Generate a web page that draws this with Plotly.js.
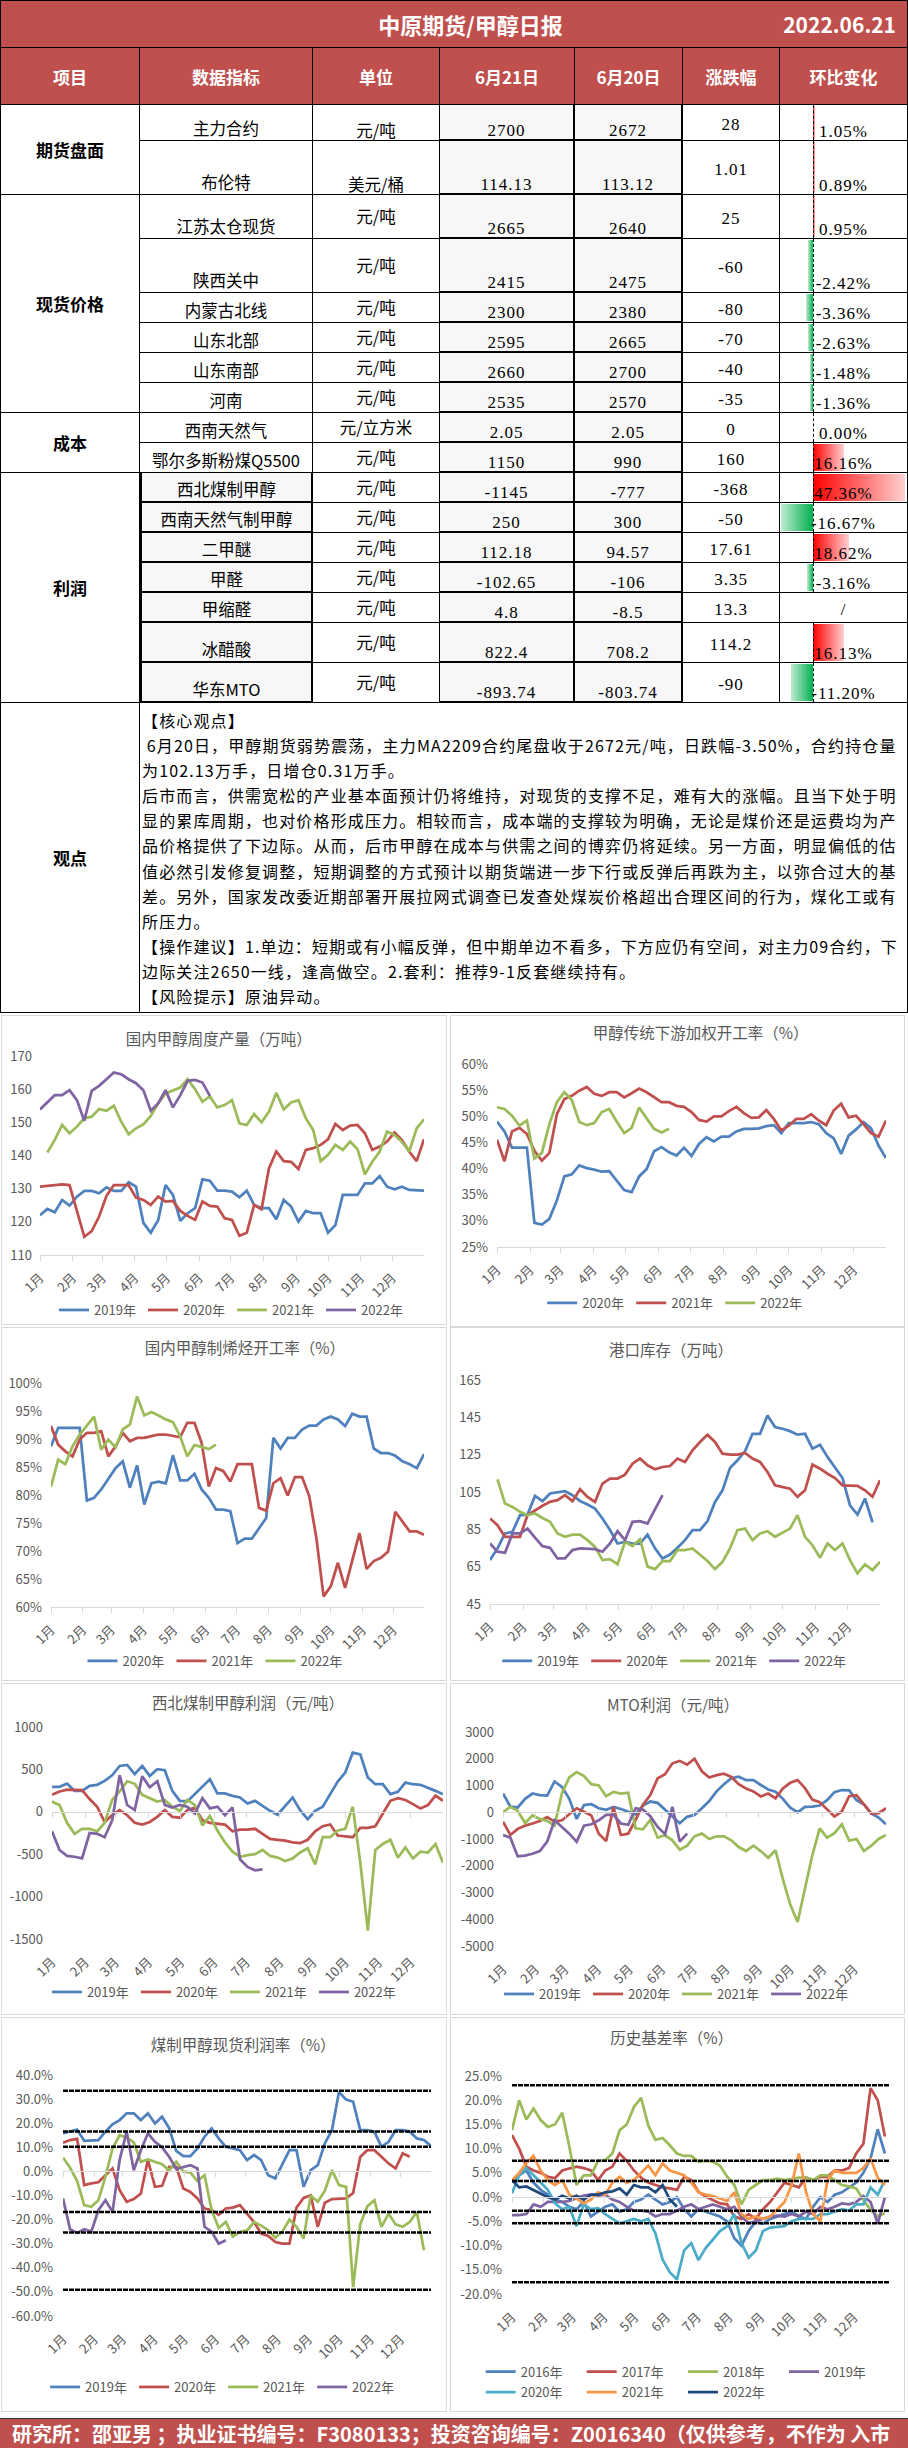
<!DOCTYPE html>
<html lang="zh-CN">
<head>
<meta charset="utf-8">
<script src="https://cdn.plot.ly/plotly-3.0.1.min.js"></script>
<style>
*{box-sizing:border-box;}
html,body{margin:0;padding:0;background:#fff;}
body{position:relative;width:908px;height:2448px;overflow:hidden;font-family:"Noto Sans CJK SC","Noto Sans",sans-serif;color:#000;}
#rep{position:absolute;left:0;top:0;width:908px;height:1013px;}
.cell{position:absolute;border-right:1px solid #000;border-bottom:1px solid #000;display:flex;overflow:hidden;white-space:nowrap;line-height:17px;}
.hd{background:#C0504D;color:#fff;font-weight:700;font-size:17px;}
.grp{font-weight:700;font-size:17px;}
.nm{font-size:16.5px;}
.num{font-family:"Liberation Serif",serif;font-size:17px;letter-spacing:1px;line-height:17px;}
.ttl{position:absolute;left:33px;right:0;top:0;bottom:0;display:flex;align-items:center;justify-content:center;font-size:22px;}
.dt{position:absolute;right:11px;top:0;bottom:0;display:flex;align-items:center;font-size:21px;}
.view{font-size:16px;letter-spacing:1.15px;line-height:25.1px;padding:5px 0 0 2px;white-space:nowrap;display:block;}
.panel{position:absolute;border:1px solid #D9D9D9;background:#fff;}
.plot{position:absolute;}
#footer{position:absolute;left:0;top:2418px;width:908px;height:30px;background:#C0504D;border-top:1px solid #333;color:#fff;font-weight:700;font-size:20px;line-height:29px;padding-left:12px;white-space:nowrap;overflow:hidden;}
</style>
</head>
<body>
<div id="rep"></div>
<div id="footer">研究所：邵亚男 ；执业证书编号：F3080133；投资咨询编号：Z0016340（仅供参考，不作为 入市</div>
<script>
// ---------------- TABLE DATA ----------------
const headers=['项目','数据指标','单位','6月21日','6月20日','涨跌幅','环比变化'];
const groupLabels=['期货盘面','现货价格','成本','利润'];
const groupSizes=[2,6,2,7];
const itemNames=['主力合约','布伦特','江苏太仓现货','陕西关中','内蒙古北线','山东北部','山东南部','河南','西南天然气','鄂尔多斯粉煤Q5500','西北煤制甲醇','西南天然气制甲醇','二甲醚','甲醛','甲缩醛','冰醋酸','华东MTO'];
const units=['元/吨','美元/桶','元/吨','元/吨','元/吨','元/吨','元/吨','元/吨','元/立方米','元/吨','元/吨','元/吨','元/吨','元/吨','元/吨','元/吨','元/吨'];
const priceJun21=['2700','114.13','2665','2415','2300','2595','2660','2535','2.05','1150','-1145','250','112.18','-102.65','4.8','822.4','-893.74'];
const priceJun20=['2672','113.12','2640','2475','2380','2665','2700','2570','2.05','990','-777','300','94.57','-106','-8.5','708.2','-803.74'];
const dayChange=['28','1.01','25','-60','-80','-70','-40','-35','0','160','-368','-50','17.61','3.35','13.3','114.2','-90'];
const pctChange=[1.05,0.89,0.95,-2.42,-3.36,-2.63,-1.48,-1.36,0.00,16.16,47.36,-16.67,18.62,-3.16,null,16.13,-11.20];
const viewLines=[
'【核心观点】',
'&nbsp;6月20日，甲醇期货弱势震荡，主力MA2209合约尾盘收于2672元/吨，日跌幅-3.50%，合约持仓量',
'为102.13万手，日增仓0.31万手。',
'后市而言，供需宽松的产业基本面预计仍将维持，对现货的支撑不足，难有大的涨幅。且当下处于明',
'显的累库周期，也对价格形成压力。相较而言，成本端的支撑较为明确，无论是煤价还是运费均为产',
'品价格提供了下边际。从而，后市甲醇在成本与供需之间的博弈仍将延续。另一方面，明显偏低的估',
'值必然引发修复调整，短期调整的方式预计以期货端进一步下行或反弹后再跌为主，以弥合过大的基',
'差。另外，国家发改委近期部署开展拉网式调查已发查处煤炭价格超出合理区间的行为，煤化工或有',
'所压力。',
'【操作建议】1.单边：短期或有小幅反弹，但中期单边不看多，下方应仍有空间，对主力09合约，下',
'边际关注2650一线，逢高做空。2.套利：推荐9-1反套继续持有。',
'【风险提示】原油异动。'
];

// ---------------- CHART DATA ----------------
const monthStartDays=[0,31,59,90,120,151,181,212,243,273,304,334];
const monthLabels=['1月','2月','3月','4月','5月','6月','7月','8月','9月','10月','11月','12月'];
const weekDays=Array.from({length:53},(_,i)=>i*7);

// 国内甲醇周度产量（万吨）
const prod2019=[122,123.9,122.9,126.6,124.9,127.6,129.3,129.3,128.6,130.4,129.3,129.3,131.9,130.6,119.7,116.7,120.5,131.1,128.1,120.3,122.6,124.1,132.8,132.4,129.4,129.4,129.1,127.4,129.4,125.1,124.1,124.1,120.8,126.6,124.6,120.1,123.3,122.6,122.6,116.7,119,128.1,128.1,128.1,131.6,131.6,133.8,130.6,129.8,130.6,129.6,129.4,129.4];
const prod2020=[130.6,130.9,131.1,131.3,131.1,123.6,115.5,117.2,121.6,127.8,131.1,131.1,131.1,127.3,126.6,125.1,127.6,126.1,126.3,123.3,121.8,120.6,126.1,124.8,124.6,121.1,120.6,115.8,116.7,125.1,123.8,136.1,141.2,138.3,138.1,135.9,141.7,142.2,143.2,144.9,149.5,147.7,149.0,149.2,146.7,141.7,142.7,144.2,146.9,144.7,141.2,138.3,144.9];
const prod2021=[null,140.9,144.7,149.2,146.7,148.7,151.2,151.7,154,153.5,155,150.2,146.4,148.2,149.4,151.9,155.7,158.7,159.5,160.5,163,160,156.2,157.9,154.5,155.2,156.7,149.7,149.2,152.5,150,153.2,158.9,153.9,156,156.7,151.2,147.7,138.3,140.2,143.2,141.7,144.2,141.9,134.3,138.1,141.2,147.2,146.2,144.2,141.2,148.2,150.9];
const prod2022=[153.9,156.2,158.2,158.2,159.7,156.7,150.5,159.5,161,163,165,164.5,163,161.8,159.7,153.5,155.7,159.7,154.5,158.2,162.5,162.8,162,158];
const prodTicks=[110,120,130,140,150,160,170];

// 甲醇传统下游加权开工率（%）
const down2020=[49.0,47.1,44.0,44.0,44.0,29.6,29.3,30.4,33.9,38.5,38.9,40.6,40.1,39.8,39.4,39.5,37.6,35.9,35.5,38.5,39.9,43.3,44.1,43.1,42.5,44.0,42.4,44.7,46.0,45.2,46.1,46.1,47.1,47.6,47.6,47.7,48.1,48.3,46.8,48.7,48.7,48.7,48.9,48.5,46.8,45.8,42.8,46.3,47.5,48.9,47.7,44.4,42.0];
const down2021=[45.5,41.4,47.1,47.8,46.6,43.4,41.5,43.0,50.4,53.3,53.9,54.9,55.6,54.3,53.9,54.6,54.6,53.6,54.4,55.3,54.6,53.6,52.7,52.7,52.0,51.8,50.8,49.3,49.0,50.0,50.0,51.0,51.8,50.6,49.7,49.8,51.2,49.5,47.3,48.2,49.5,49.5,50.4,49.2,48.3,51.1,52.4,49.8,50.1,48.5,46.8,46.1,49.2];
const down2022=[51.7,51.4,50.1,48.2,49.2,41.9,43.0,48.5,52.7,54.6,53.1,48.9,48.3,48.7,50.8,51.4,49.0,46.8,47.8,51.7,49.6,47.6,46.9,47.6];
const downTicks=[25,30,35,40,45,50,55,60];

// 国内甲醇制烯烃开工率（%）
const olef2020=[88.7,92.0,92.0,92.0,92.0,79.0,79.5,81.0,83.0,84.8,86.0,81.3,85.3,78.3,82.1,82.4,82.1,87.1,82.6,82.6,83.8,81.0,79.5,77.4,77.4,77.1,71.4,72.2,72.2,74.1,75.9,90.2,88.3,90.2,90.2,91.7,92.4,92.4,93.5,94.0,93.5,92.3,94.5,94.0,94.0,88.3,87.5,87.5,87.0,86.0,85.5,84.8,87.3];
const olef2021=[92.3,89.0,87.8,86.9,89.9,91.1,91.1,91.4,86.9,88.7,91.1,89.6,90.2,90.2,90.5,90.8,90.8,90.5,90.3,92.9,92.9,89.3,81.5,84.8,84.3,82.4,85.5,85.5,85.5,77.7,77.2,82.1,83.0,79.9,83.2,83.2,79.8,72.3,61.9,63.7,67.9,63.4,68.2,73.2,66.8,68.2,68.8,69.9,77.0,75.2,73.5,73.5,72.9];
const olef2022=[81.5,86.3,85.5,88.7,90.8,92.3,94.0,88.1,89.9,88.5,91.7,92.6,97.6,94.2,94.8,94.2,93.5,93.0,90.5,86.9,88.9,88.6,88.2,89.0];
const olefTicks=[60,65,70,75,80,85,90,95,100];

// 港口库存（万吨）
const port2019=[68.5,74.8,82.8,83.7,92.6,92.9,102.9,100.1,104.2,105.0,105.4,103.3,100.2,98.3,96.1,90.8,84.6,77.4,78.3,77.4,77.4,82.2,74.8,69.4,71.5,75.1,79.2,84.6,84.6,89.4,99.7,105.9,117.9,122.0,126.8,136.2,136.2,146.0,139.8,138.9,137.6,135.7,136.2,128.2,130.3,123.8,118.4,112.5,97.9,92.9,101.5,88.7];
const port2020=[90.8,87.2,81.0,81.0,81.0,92.6,95.2,97.6,99.7,100.6,103.3,100.1,106.5,102.4,99.7,109.5,112.2,112.2,114.3,120.2,122.9,119.3,117.2,118.4,118.9,122.9,121.1,127.3,131.8,135.7,131.8,125.5,125.0,125.0,125.9,122.9,121.1,115.7,108.6,107.7,106.8,102.4,105.9,119.7,117.5,114.8,112.5,108.6,108.3,108.3,105.9,102.4,111.3];
const port2021=[null,111.8,98.8,97.0,94.4,92.6,93.5,91.1,89.0,82.8,81.0,82.2,82.2,79.2,75.6,68.5,69.0,66.2,78.3,76.0,79.7,65.0,63.7,68.0,68.0,73.9,73.9,74.8,71.2,68.0,63.7,67.6,74.8,84.6,85.4,79.2,82.8,84.0,81.0,83.1,85.4,92.6,81.0,76.5,69.8,77.4,73.9,77.4,68.5,61.4,66.2,63.2,67.6];
const port2022=[77.4,73.0,72.4,82.8,82.8,85.4,80.5,76.0,75.1,69.4,69.4,73.9,74.8,74.4,74.4,73.0,77.4,84.0,79.2,89.0,89.4,88.1,96.1,103.3];
const portTicks=[45,65,85,105,125,145,165];

// 西北煤制甲醇利润（元/吨）
const nw2019=[294,294,333,247,247,306,318,365,431,541,553,443,541,423,502,490,247,129,122,208,306,384,216,216,188,169,98,129,71,12,-35,71,169,20,-86,12,59,208,357,463,698,678,404,325,325,208,235,345,325,318,286,247,208];
const nw2020=[200,240,260,260,255,150,60,-120,-40,20,-40,-130,-150,-120,-60,20,-60,-70,20,50,-100,-130,-140,-150,-230,-210,-210,-200,-260,-320,-330,-340,-360,-370,-330,-230,-170,-150,-280,-290,-300,-190,-190,-170,-20,130,160,140,90,40,80,190,130];
const nw2021=[120,80,-130,-260,-200,-200,-230,-130,140,240,360,330,200,160,120,140,60,10,140,80,-160,-50,-220,-360,-470,-530,-510,-500,-450,-520,-540,-580,-550,-480,-430,-620,-300,-300,-220,-200,60,-600,-1400,-450,-380,-330,-540,-420,-550,-470,-480,-380,-600];
const nw2022=[-230,-450,-520,-530,-550,-250,-260,-300,-100,430,80,20,420,290,360,80,50,80,60,-20,160,40,60,-40,50,-560,-650,-690,-680];
const nwTicks=[-1500,-1000,-500,0,500,1000];

// MTO利润（元/吨）
const mto2019=[700,210,180,500,700,640,620,1150,950,500,-250,270,300,150,90,200,120,20,-80,250,400,350,100,-150,-410,-170,-100,150,420,780,1050,1270,1330,1200,1200,1020,850,770,500,170,0,200,210,250,450,750,830,820,450,300,-40,-200,-450];
const mto2020=[-350,-850,-620,-500,-420,-330,-180,-350,-300,-80,150,20,-120,-800,-1080,200,-850,-800,-290,280,640,1270,1420,1830,1920,1780,2000,1530,1300,1390,1440,1320,1050,890,780,590,700,520,890,1100,1200,900,470,380,100,-160,30,600,640,300,-50,-30,150];
const mto2021=[0,200,50,-400,-120,-250,-320,-500,700,1300,1500,1350,1050,1000,600,760,700,730,-600,-640,-290,-950,-860,-1050,-1400,-1250,-900,-800,-1000,-900,-900,-1050,-1300,-1450,-1250,-1450,-1700,-1420,-2500,-3450,-4100,-2900,-1600,-600,-950,-780,-450,-1060,-1000,-1450,-1250,-1000,-850];
const mto2022=[-850,-950,-1650,-1620,-1550,-1450,-1100,-300,-550,-800,-1100,-500,-450,-300,-100,-100,-420,-470,150,100,-150,-550,-820,200,-1100,-800];
const mtoTicks=[-5000,-4000,-3000,-2000,-1000,0,1000,2000,3000];

// 煤制甲醇现货利润率（%）
const pr2019=[15.8,16.5,17.4,12.7,12.7,13.0,16.5,19.5,21.3,24.1,24.1,21.3,24.1,19.9,22.7,18.0,8.5,6.3,6.3,9.5,14.4,17.8,13.7,10.2,9.5,8.8,4.7,6.8,4.7,-1.6,-2.9,3.3,8.8,8.8,-6.4,0.5,2.6,11.6,17.1,33.0,29.8,28.9,17.1,17.1,16.5,10.2,12.3,17.1,17.1,16.5,13.7,13.0,10.5];
const pr2020=[11.9,13.0,13.5,-5.7,-5.0,-4.5,-1.6,1.2,-7.8,-12.6,-11.5,-9.2,4.7,-6.4,-6.0,1.9,1.9,-7.1,-8.5,-11.2,-15.4,-16.0,-18.0,-15.4,-15.0,-14.0,-17.5,-21.0,-25.8,-26.8,-29.3,-30.0,-30.0,-15.0,-11.0,-9.9,-23.0,-13.0,-11.5,-11.2,-11.2,-9.0,6.0,8.8,8.8,6.1,3.3,1.2,7.5,6.1];
const pr2021=[5.8,1.5,-4.0,-14.0,-14.7,-12.0,-2.2,9.5,15.0,14.0,12.0,4.0,5.0,4.0,3.0,0.5,4.0,0.0,-0.5,-4.0,-1.6,-16.1,-23.5,-21.0,-27.0,-25.1,-24.5,-21.0,-22.5,-24.4,-27.5,-25.0,-20.0,-23.0,-27.9,-10.0,-12.6,-8.0,0.5,-5.7,-6.4,-48.0,-22.0,-14.5,-12.0,-23.0,-17.5,-22.0,-23.0,-21.0,-16.8,-32.7];
const pr2022=[-11.2,-24.0,-25.5,-24.0,-25.0,-16.1,-12.0,-16.8,4.7,16.5,0.5,8.8,15.8,12.3,10.0,6.1,1.0,1.9,2.6,1.2,-23.0,-25.0,-30.0,-28.6];
const prTicks=[-60,-50,-40,-30,-20,-10,0,10,20,30,40];
const prRefLevels=[33.5,16.6,10.2,-16.8,-25.4,-49.1];

// 历史基差率（%）
const b2016=[3.0,4.5,5.5,3.0,1.5,0.5,-0.5,-1.0,-2.0,-2.5,-1.0,-4.0,-3.0,-2.0,-1.5,-3.0,-2.5,-1.0,-0.5,0.5,-0.5,-1.5,-1.0,0.0,-2.5,-4.0,-2.5,-3.0,-3.5,-4.0,-5.0,-8.5,-10.0,-7.0,-5.0,-5.5,-4.5,-4.0,-3.5,-3.0,-4.0,-4.5,-2.0,0.0,-1.0,0.5,1.0,2.0,3.0,5.0,8.0,14.0,9.0];
const b2017=[12.8,10.0,6.3,5.5,5.0,4.2,3.9,5.5,5.9,6.3,6.0,5.5,3.5,5.5,6.3,9.0,7.5,5.5,4.0,3.0,2.5,2.0,1.8,1.5,4.2,3.5,1.1,0.1,-0.6,-1.3,-1.5,-4.0,-4.5,-3.5,-4.5,-2.5,-1.0,1.0,3.0,2.5,2.0,4.0,3.5,4.2,4.2,5.5,5.5,6.0,9.0,11.0,22.5,20.0,12.5];
const b2018=[13.8,20.0,16.0,18.3,15.9,14.5,15.0,17.4,10.4,2.5,4.5,4.5,7.5,7.6,9.0,13.8,15.0,18.6,20.5,14.8,11.8,12.2,10.7,9.0,8.5,8.5,7.3,7.5,7.3,6.5,4.2,2.5,-1.5,1.5,2.5,3.5,3.5,3.8,3.5,3.8,4.0,4.0,3.5,4.5,4.5,3.5,2.5,2.2,1.8,-0.6,-2.6,-4.0,-3.3];
const b2019=[-3.7,-3.7,-3.5,-1.5,-2.0,-1.0,-1.0,-1.0,-0.8,-0.3,0.3,0.5,0.3,0.5,-0.5,-1.0,-2.0,-2.8,-2.8,-3.0,-4.0,-3.5,-3.5,-2.8,-2.0,-1.5,-2.5,-2.0,-1.5,-2.0,-2.5,-2.0,-4.0,-5.4,-5.0,-4.5,-4.0,-3.8,-4.0,-3.5,-4.0,-3.0,-3.5,-2.0,-2.5,-2.0,-1.3,-1.5,-1.0,0.2,-1.0,-5.5,0.0];
const b2020=[0.8,4.5,6.0,4.5,3.0,1.5,-1.3,-2.5,-2.0,-6.0,-1.5,-2.5,-2.3,-3.5,-4.5,-5.4,-5.0,-4.5,-5.0,-4.5,-7.5,-12.9,-15.5,-17.0,-11.0,-9.5,-13.0,-10.5,-8.8,-7.0,-6.0,-3.5,-9.5,-12.5,-11.0,-7.0,-6.3,-6.2,-6.0,-5.0,-4.5,-4.5,-4.5,-3.5,-3.5,-3.0,-2.5,-2.8,-1.5,-1.5,2.0,0.5,3.5];
const b2021=[3.5,5.0,7.0,8.5,5.5,3.5,2.5,3.5,0.5,-0.3,-1.3,-0.5,1.0,0.5,3.0,4.2,3.0,3.5,5.0,6.5,4.5,7.0,5.5,5.0,4.5,3.0,1.0,0.5,0.2,-0.3,-0.8,1.0,-3.5,-4.5,-4.0,-4.5,-4.0,-2.5,-1.0,2.5,9.0,1.0,-3.5,-5.0,3.5,5.5,5.0,5.0,5.0,6.0,8.0,4.0,2.5];
const b2022=[3.5,2.0,2.2,1.5,0.8,0.0,-0.5,0.3,-0.3,0.3,-0.5,0.5,0.5,1.0,1.2,1.8,0.5,2.5,2.0,2.0,1.0,2.5,-0.5,-2.0];
const basisTicks=[-20,-15,-10,-5,0,5,10,15,20,25];
const basisRefLevels=[23.1,7.5,3.3,-2.8,-5.4,-17.6];

// ---------------- TABLE BUILD (absolute cells) ----------------
(function(){
  const rep=document.getElementById('rep');
  const colX=[0,140,313,440,575,683,780,908];
  const rowH=[36,54,44,54,30,30,30,30,30,30,30,30,30,30,30,40,40];
  const rowY=[105];rowH.forEach(h=>rowY.push(rowY[rowY.length-1]+h));
  const viewBottom=1013;
  function cell(x0,x1,y0,y1,html,cls,style){
    const d=document.createElement('div');d.className='cell '+(cls||'');
    d.style.cssText=`left:${x0}px;top:${y0}px;width:${x1-x0}px;height:${y1-y0}px;`+(style||'');
    d.innerHTML=html;rep.appendChild(d);return d;
  }
  const BL='border-left:1px solid #000;';
  cell(0,908,0,48,'<span class="ttl">中原期货/甲醇日报</span><span class="dt">2022.06.21</span>','hd',BL+'border-top:1px solid #000;position:absolute;');
  headers.forEach((t,c)=>cell(colX[c],colX[c+1],48,105,t,'hd',(c===0?BL:'')+'align-items:center;justify-content:center;'));
  let r=0;
  groupSizes.forEach((n,g)=>{cell(0,colX[1],rowY[r],rowY[r+n],groupLabels[g],'grp',BL+'align-items:center;justify-content:center;');r+=n;});
  const maxPos=Math.max(...pctChange.filter(v=>v!==null));
  const axisX=33,barSpan=(colX[7]-colX[6])-axisX-3;
  for(let i=0;i<itemNames.length;i++){
    const y0=rowY[i],y1=rowY[i+1];
    const profit=i>=10;
    const nmStyle=profit?'background:#F7F7F7;border-left:2px solid #000;border-right:2px solid #000;border-bottom:2px solid #000;':'';
    cell(colX[1],colX[2],y0,y1,itemNames[i],'nm',nmStyle+'align-items:flex-end;justify-content:center;padding-bottom:3px;');
    cell(colX[2],colX[3],y0,y1,units[i],'nm',(i<2?'align-items:flex-end;padding-bottom:1px;':'align-items:center;')+'justify-content:center;');
    cell(colX[3],colX[4],y0,y1,priceJun21[i],'num','background:#F7F7F7;border-bottom:2px solid #000;border-right:2px solid #000;align-items:flex-end;justify-content:center;');
    cell(colX[4],colX[5],y0,y1,priceJun20[i],'num','background:#F7F7F7;border-bottom:2px solid #000;border-right:2px solid #000;align-items:flex-end;justify-content:center;');
    cell(colX[5],colX[6],y0,y1,dayChange[i],'num','align-items:center;justify-content:center;padding-top:3px;');
    const v=pctChange[i];
    let inner;
    if(v===null){
      cell(colX[6],colX[7],y0,y1,'<span class="num">/</span>','', 'align-items:center;justify-content:center;padding-top:4px;');
    } else {
      const w=Math.abs(v)/maxPos*barSpan;
      let bar='';
      if(v>0) bar=`<div style="position:absolute;left:${axisX}px;top:1px;bottom:1px;width:${w}px;background:linear-gradient(to right,#FF0000,#FFD0D0)"></div>`;
      else if(v<0) bar=`<div style="position:absolute;left:${axisX-w}px;top:1px;bottom:1px;width:${w}px;background:linear-gradient(to left,#00B050,#BFEBCF)"></div>`;
      const ax=`<div style="position:absolute;left:${axisX}px;top:0;bottom:0;border-left:1px dashed #000"></div>`;
      cell(colX[6],colX[7],y0,y1,`${bar}${ax}<span class="num" style="position:relative">${v.toFixed(2)}%</span>`,'','align-items:flex-end;justify-content:center;');
    }
  }
  cell(0,colX[1],rowY[rowY.length-1],viewBottom,'观点','grp',BL+'align-items:center;justify-content:center;');
  cell(colX[1],colX[7],rowY[rowY.length-1],viewBottom,`<div class="view">${viewLines.join('<br>')}</div>`,'','display:block;');
})();

// ---------------- CHARTS ----------------
const FONT='"Noto Sans CJK SC","Noto Sans",sans-serif';
const COL={blue:'#4F81BD',red:'#C0504D',green:'#9BBB59',purple:'#8064A2',cyan:'#4BACC6',orange:'#F79646',navy:'#1F497D'};
const fmtInt=v=>String(v);
const fmtPct0=v=>v+'%';
const fmtPct1=v=>v.toFixed(1)+'%';

const charts=[
 {panel:[1,1015,446,310],m:[39.3,22.7,41,70],title:'国内甲醇周度产量（万吨）',tx:0.488,ty:25,lx:0.518,ly:295,ew:44,yTicks:prodTicks,yFmt:fmtInt,ysd:7,
  series:[['2019年',prod2019,COL.blue],['2020年',prod2020,COL.red],['2021年',prod2021,COL.green],['2022年',prod2022,COL.purple]]},
 {panel:[450,1015,455,312],m:[47.3,19.3,48.6,80.3],title:'甲醇传统下游加权开工率（%）',tx:0.551,ty:19,lx:0.496,ly:288,ew:44,yTicks:downTicks,yFmt:fmtPct0,ysd:8,
  series:[['2020年',down2020,COL.blue],['2021年',down2021,COL.red],['2022年',down2022,COL.green]]},
 {panel:[1,1327,446,354],m:[49.7,22.7,56.3,73.7],title:'国内甲醇制烯烃开工率（%）',tx:0.547,ty:22,lx:0.482,ly:334,ew:44,yTicks:olefTicks,yFmt:fmtPct0,ysd:8,
  series:[['2020年',olef2020,COL.blue],['2021年',olef2021,COL.red],['2022年',olef2022,COL.green]]},
 {panel:[450,1327,455,354],m:[40,25.3,52.5,77],title:'港口库存（万吨）',tx:0.486,ty:24,lx:0.495,ly:334,ew:44,yTicks:portTicks,yFmt:fmtInt,ysd:8,
  series:[['2019年',port2019,COL.blue],['2020年',port2020,COL.red],['2021年',port2021,COL.green],['2022年',port2022,COL.purple]]},
 {panel:[1,1683,446,332],m:[51.3,3.7,43.8,75.7],title:'西北煤制甲醇利润（元/吨）',tx:0.554,ty:21,lx:0.502,ly:309,ew:44,yTicks:nwTicks,yFmt:fmtInt,ysd:8,zeroAxis:true,
  series:[['2019年',nw2019,COL.blue],['2020年',nw2020,COL.red],['2021年',nw2021,COL.green],['2022年',nw2022,COL.purple]]},
 {panel:[450,1683,455,332],m:[53.3,19.3,48.6,69.3],title:'MTO利润（元/吨）',tx:0.490,ty:22.7,lx:0.499,ly:311,ew:44,yTicks:mtoTicks,yFmt:fmtInt,ysd:8,zeroAxis:true,
  series:[['2019年',mto2019,COL.blue],['2020年',mto2020,COL.red],['2021年',mto2021,COL.green],['2022年',mto2022,COL.purple]]},
 {panel:[1,2017,446,395],m:[62.3,16.3,58,96.3],title:'煤制甲醇现货利润率（%）',tx:0.543,ty:28.7,lx:0.498,ly:370,ew:44,yTicks:prTicks,yFmt:fmtPct1,ysd:9,zeroAxis:true,refs:prRefLevels,
  series:[['2019年',pr2019,COL.blue],['2020年',pr2020,COL.red],['2021年',pr2021,COL.green],['2022年',pr2022,COL.purple]]},
 {panel:[450,2017,455,395],m:[62.3,16,58.7,117.7],title:'历史基差率（%）',tx:0.487,ty:22,ew:56,yTicks:basisTicks,yFmt:fmtPct1,ysd:9,zeroAxis:true,refs:basisRefLevels,xMax:368,
  legendRows:[{items:[0,1],lineX:485.7,y:2371.7},{items:[2,3],lineX:688,y:2371.7},{items:[4,5],lineX:485.7,y:2392.3},{items:[6],lineX:688,y:2392.3}],
  series:[['2016年',b2016,COL.blue],['2017年',b2017,COL.red],['2018年',b2018,COL.green],['2019年',b2019,COL.purple],['2020年',b2020,COL.cyan],['2021年',b2021,COL.orange],['2022年',b2022,COL.navy]]}
];

function build(c){
  const [L,T,W,H]=c.panel;
  const p=document.createElement('div');p.className='panel';
  Object.assign(p.style,{left:L+'px',top:T+'px',width:W+'px',height:H+'px'});
  document.body.appendChild(p);
  const d=document.createElement('div');d.className='plot';
  Object.assign(d.style,{left:L+'px',top:T+'px',width:W+'px',height:H+'px'});
  document.body.appendChild(d);
  const xMax=c.xMax||364;
  const traces=c.series.map(s=>({type:'scatter',mode:'lines',name:s[0],x:weekDays.slice(0,s[1].length),y:s[1],
    line:{color:s[2],width:2.75},hoverinfo:'skip',connectgaps:false}));
  const yr=[c.yTicks[0],c.yTicks[c.yTicks.length-1]];
  const legFont={family:FONT,size:13,color:'#595959'};
  const layout={
    width:W,height:H,margin:{l:c.m[0],r:c.m[1],t:c.m[2],b:c.m[3],pad:0},
    paper_bgcolor:'rgba(0,0,0,0)',plot_bgcolor:'rgba(0,0,0,0)',
    font:{family:FONT,size:13,color:'#595959'},
    title:{text:c.title,font:{family:FONT,size:15.5,color:'#595959'},x:c.tx,xref:'container',xanchor:'center',y:1-c.ty/H,yref:'container',yanchor:'middle'},
    showlegend:true,
    xaxis:{range:[0,xMax],tickmode:'array',tickvals:monthStartDays,ticktext:monthLabels,tickangle:-45,showgrid:false,zeroline:false,
      tickfont:{family:FONT,size:13,color:'#595959'}},
    yaxis:{range:yr,tickmode:'array',tickvals:c.yTicks,ticktext:c.yTicks.map(c.yFmt),showgrid:false,zeroline:false,showline:false,ticks:'',
      ticklabelstandoff:c.ysd,tickfont:{family:FONT,size:13,color:'#595959'}},
    shapes:(c.refs||[]).map(v=>({type:'line',xref:'paper',x0:0,x1:1,yref:'y',y0:v,y1:v,layer:'above',line:{color:'#000',width:2.5,dash:'5px,1px'}}))
  };
  if(c.legendRows){
    c.legendRows.forEach((row,k)=>{
      const key=k===0?'legend':'legend'+(k+1);
      layout[key]={orientation:'h',xref:'container',x:(row.lineX-5-L)/W,xanchor:'left',yref:'container',y:1-(row.y-T)/H,yanchor:'middle',
        font:legFont,entrywidth:c.ew,entrywidthmode:'pixels',traceorder:'normal',bgcolor:'rgba(0,0,0,0)'};
      row.items.forEach(ix=>{traces[ix].legend=key;});
    });
  } else {
    layout.legend={orientation:'h',x:c.lx,xref:'container',xanchor:'center',y:1-c.ly/H,yref:'container',yanchor:'middle',
      font:legFont,entrywidth:c.ew,entrywidthmode:'pixels',traceorder:'normal',bgcolor:'rgba(0,0,0,0)'};
  }
  if(c.zeroAxis){
    Object.assign(layout.xaxis,{showline:false,ticks:'',ticklabelstandoff:12});
    layout.xaxis2={overlaying:'x',anchor:'free',position:(0-yr[0])/(yr[1]-yr[0]),side:'bottom',range:[0,xMax],tickmode:'array',
      tickvals:monthStartDays,showticklabels:false,showline:true,linecolor:'#D9D9D9',linewidth:1,ticks:'outside',ticklen:5,tickcolor:'#D9D9D9',showgrid:false,zeroline:false};
    traces.push({type:'scatter',mode:'lines',x:[0,xMax],y:[0,0],xaxis:'x2',yaxis:'y',showlegend:false,hoverinfo:'skip',line:{width:0,color:'rgba(0,0,0,0)'}});
  } else {
    Object.assign(layout.xaxis,{showline:true,linecolor:'#D9D9D9',linewidth:1,ticks:'outside',ticklen:5,tickcolor:'#D9D9D9',ticklabelstandoff:4});
  }
  Plotly.newPlot(d,traces,layout,{staticPlot:true,displayModeBar:false});
}
charts.forEach(build);
</script>
</body>
</html>
